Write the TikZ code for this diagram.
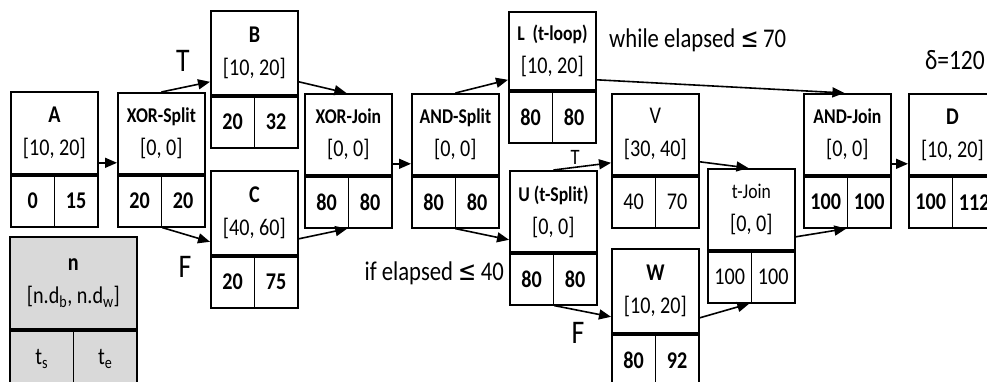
\documentclass[tikz,border=0pt]{standalone}
\usepackage{fontspec}
\setmainfont{Carlito}[FakeStretch=0.84]
\newfontfamily\symfont{DejaVu Sans}[FakeStretch=0.80]
\usetikzlibrary{arrows.meta}

\definecolor{legendgray}{RGB}{217,217,217}

\newcommand\gatefont{\fontsize{21}{33}\selectfont}

\tikzset{
  cellline/.style={draw=black, line width=1.8pt},
  topcell/.style={cellline, rectangle, inner sep=0pt, anchor=north west,
    minimum width=87pt, minimum height=81pt, align=center,
    font=\fontsize{24}{33}\selectfont},
  botcell/.style={cellline, rectangle, inner sep=0pt,
    minimum width=43.5pt, minimum height=51pt,
    font=\fontsize{24}{26}\selectfont},
  arr/.style={draw=black, line width=1.6pt, -{Triangle[length=12pt,width=10pt]}},
  note/.style={inner sep=0pt, font=\fontsize{27}{30}\selectfont},
  branch/.style={inner sep=0pt, font=\fontsize{33}{36}\selectfont},
}

% activity box: name, x, y, title, interval, start, end, style of the upper cell
\newcommand\actbox[8]{%
  \node[topcell, #8] (#1) at (#2,#3) {{#4}\\{#5}};
  \node[botcell, anchor=north west] (#1-s) at (#1.south west) {#6};
  \node[botcell, anchor=north east] (#1-e) at (#1.south east) {#7};
}

\begin{document}
\begin{tikzpicture}[x=1pt, y=-1pt]
\useasboundingbox (0,0) rectangle (987,381);
\clip (0,0) rectangle (987,381);

% activities and gateways
\actbox{A}{10}{91}{\textbf{A}}{[10, 20]}{\textbf{0}}{\textbf{15}}{minimum height=82pt}
\actbox{XS}{117}{92}{\gatefont\textbf{XOR-Split}}{[0, 0]}{\textbf{20}}{\textbf{20}}{}
\actbox{B}{210}{10}{\textbf{B}}{[10, 20]}{\textbf{20}}{\textbf{32}}{minimum height=84pt}
\actbox{C}{210}{170}{\textbf{C}}{[40, 60]}{\textbf{20}}{\textbf{75}}{minimum height=84pt}
\actbox{XJ}{304}{93}{\gatefont\textbf{XOR-Join}}{[0, 0]}{\textbf{80}}{\textbf{80}}{}
\actbox{AS}{411}{93}{\gatefont\textbf{AND-Split}}{[0, 0]}{\textbf{80}}{\textbf{80}}{}
\actbox{L}{508}{11}{\gatefont\textbf{L\ \ (t-loop)}}{[10, 20]}{\textbf{80}}{\textbf{80}}{minimum height=78pt}
\actbox{U}{509}{170}{\gatefont\textbf{U (t-Split)}}{[0, 0]}{\textbf{80}}{\textbf{80}}{}
\actbox{V}{611}{93}{V}{[30, 40]}{40}{70}{}
\actbox{W}{611}{248}{\textbf{W}}{[10, 20]}{\textbf{80}}{\textbf{92}}{minimum height=84pt}
\actbox{TJ}{707}{168}{\gatefont t-Join}{[0, 0]}{100}{100}{}
\actbox{AJ}{803}{93}{\gatefont\textbf{AND-Join}}{[0, 0]}{\textbf{100}}{\textbf{100}}{}
\actbox{D}{908}{93}{\textbf{D}}{[10, 20]}{\textbf{100}}{\textbf{112}}{}

% legend box
\node[topcell, fill=legendgray, minimum width=127pt, minimum height=92pt] (key) at (9,236)
  {\textbf{n}\\{[n.d\textsubscript{b}, n.d\textsubscript{w}]}};
\node[botcell, fill=legendgray, minimum width=63.5pt, minimum height=56pt, anchor=north west]
  (key-s) at (key.south west) {t\textsubscript{s}};
\node[botcell, fill=legendgray, minimum width=63.5pt, minimum height=56pt, anchor=north east]
  (key-e) at (key.south east) {t\textsubscript{e}};

% control flow
\draw[arr] ([yshift=12pt]A.south east) -- ([yshift=12pt]XS.south west);
\draw[arr] (XS.north) -- ([yshift=14pt]B.south west);
\draw[arr] (XS-s.south east) -- ([yshift=14pt]C.south west);
\draw[arr] ([yshift=14pt]B.south east) -- ([xshift=-2pt]XJ.north);
\draw[arr] ([yshift=17pt]C.south east) -- ([xshift=-2pt]XJ-s.south east);
\draw[arr] ([yshift=12pt]XJ.south east) -- ([yshift=12pt]AS.south west);
\draw[arr] (AS.north) -- ([yshift=11pt]L.south west);
\draw[arr] ([xshift=-1pt]AS-s.south east) -- ([yshift=13pt]U.south west);
\draw[arr] ([yshift=11pt]L.south east) -- ([xshift=-3pt]AJ.north);
\draw[arr] (U.north) -- ([yshift=13pt]V.south west);
\draw[arr] (U-s.south east) -- ([yshift=17pt]W.south west);
\draw[arr] ([yshift=14pt]V.south east) -- ([xshift=-3pt]TJ.north);
\draw[arr] ([yshift=16pt]W.south east) -- ([xshift=-3pt]TJ-s.south east);
\draw[arr] ([yshift=14pt]TJ.south east) -- ([xshift=-2pt]AJ-s.south east);
\draw[arr] ([yshift=12pt]AJ.south east) -- ([yshift=12pt]D.south west);

% branch labels and conditions
\node[branch] (t1) at (183,61) {T};
\node[branch] (f1) at (185,267) {F};
\node[inner sep=0pt, font=\fontsize{22}{24}\selectfont] (t2) at (575,157) {T};
\node[branch] (f2) at (578,333) {F};
\node[note, anchor=east] (cond1) at (504,273) {if elapsed {\symfont ≤}\,40};
\node[note, anchor=west] (cond2) at (609,40) {while elapsed {\symfont ≤}\,70};
\node[note, anchor=east, font=\fontsize{28}{32}\selectfont] (delta) at (985,60) {δ=120};
\end{tikzpicture}
\end{document}
